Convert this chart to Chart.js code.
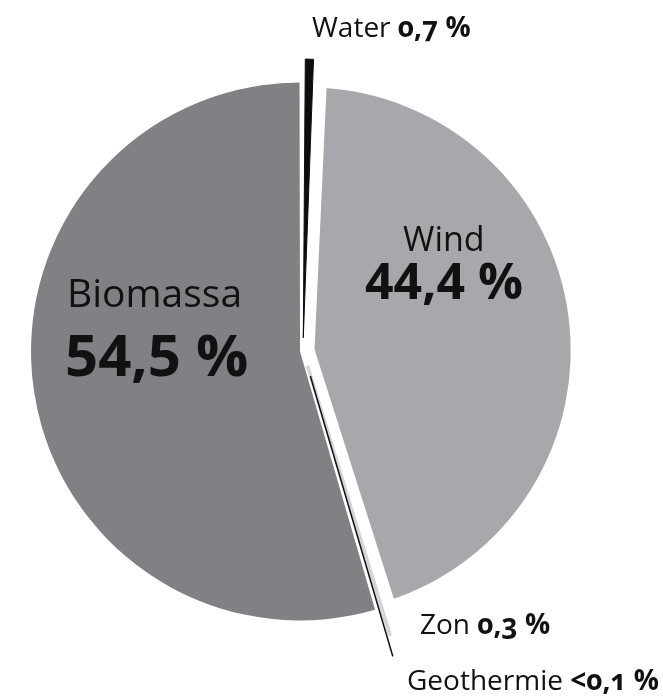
<!DOCTYPE html>
<html>
<head>
<meta charset="utf-8">
<script src="https://cdn.jsdelivr.net/npm/chart.js@4.4.0/dist/chart.umd.min.js"></script>
<style>
  html, body { margin: 0; padding: 0; background: #fff; }
  #wrap { position: relative; width: 663px; height: 697px; overflow: hidden; font-family: "Open Sans", sans-serif; color: #111; }
  #wrap canvas { position: absolute; left: 0; top: 0; }
  .lbl { position: absolute; white-space: nowrap; line-height: 1; font-variant-numeric: oldstyle-nums; }
  .lbl b { font-weight: 700; }
  .groot { font-variant-numeric: lining-nums; }
</style>
</head>
<body>
<div id="wrap">
  <canvas id="taart" width="663" height="697"></canvas>
  <div class="lbl" style="left:312px; top:12px; font-size:28px;">Water <b>0,7 %</b></div>
  <div class="lbl" style="left:403px; top:221px; font-size:34px;">Wind</div>
  <div class="lbl groot" style="left:365px; top:255px; font-size:50px;"><b>44,4 %</b></div>
  <div class="lbl" style="left:67px; top:272px; font-size:39px;">Biomassa</div>
  <div class="lbl groot" style="left:65px; top:325px; font-size:58px;"><b>54,5 %</b></div>
  <div class="lbl" style="left:420px; top:609px; font-size:28px;">Zon <b>0,3 %</b></div>
  <div class="lbl" style="left:407px; top:665px; font-size:28px;">Geothermie <b>&lt;0,1 %</b></div>
</div>
<script>
// Volgorde van tekenen: Water als laatste zodat de zwarte strook bovenop ligt
const bronnen = ['Wind', 'Zon', 'Geothermie', 'Biomassa', 'Water'];
// Aandeel in procenten (Geothermie < 0,1 %)
const aandelen = [44.4, 0.3, 0.05, 54.5, 0.7];
const kleuren = ['#a7a8ac', '#d4d5d7', '#111111', '#808185', '#0d0d0d'];
// Uitsteken per segment (Chart.js deelt dit intern door 4)
const uitsteek = [20, 62, 104, 12, 53];
const randKleur = ['#ffffff', '#d4d5d7', '#111111', '#ffffff', '#0d0d0d'];
const randDikte = [13, 3.5, 1.5, 0, 1];

// Start van Wind ligt direct na Water (0,7 % van de cirkel)
const startHoek = 0.7 / 100 * 360;

new Chart(document.getElementById('taart'), {
    type: 'pie',
    data: {
        labels: bronnen,
        datasets: [{
            data: aandelen,
            backgroundColor: kleuren,
            borderColor: randKleur,
            borderWidth: randDikte,
            offset: uitsteek,
            rotation: startHoek,
            radius: 266
        }]
    },
    options: {
        responsive: false,
        animation: false,
        layout: { padding: { left: 0, right: 57, top: 5, bottom: 0 } },
        plugins: { legend: { display: false }, tooltip: { enabled: false } }
    }
});
</script>
</body>
</html>
